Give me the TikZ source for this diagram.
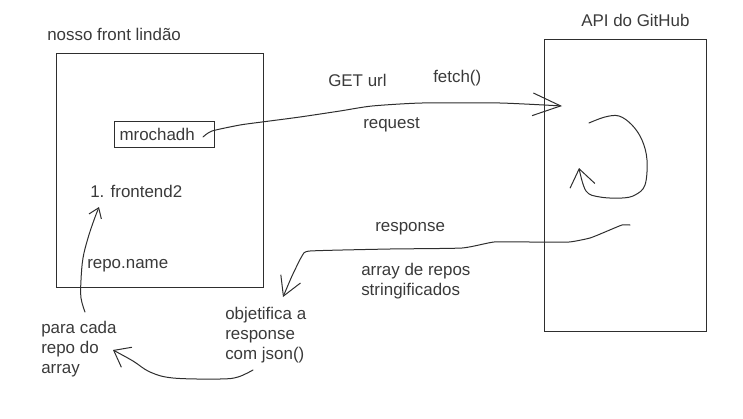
\documentclass[tikz,border=0pt]{standalone}
\usepackage{fontspec}
\setmainfont{Liberation Sans}
\usetikzlibrary{arrows.meta}
\definecolor{ink}{HTML}{3A3A3A}
\definecolor{pen}{HTML}{2E2E2E}
\begin{document}
\begin{tikzpicture}[x=0.75pt,y=-0.75pt,
  lbl/.style={text=ink, font=\fontsize{12.7}{15}\selectfont, inner sep=0pt},
  box/.style={draw=pen, line width=0.8pt, inner sep=0pt},
  hand/.style={draw=pen, line width=0.75pt, line join=round, line cap=round}]
\useasboundingbox (0,0) rectangle (743,418);

% left: front-end
\node[lbl, anchor=base west] (tFront) at (47,40) {nosso front lindão};
\node[box, anchor=north west, minimum width=155.25pt, minimum height=175.5pt] (front) at (56,53) {};
\node[box, lbl, anchor=north west, minimum height=19.5pt, text width=67.5pt, inner xsep=3.75pt, align=left] (mro) at (114,121) {mrochadh};
\node[lbl, anchor=base west] (fe2) at (90,197) {1. frontend2};
\node[lbl, anchor=base west] (rname) at (87,268) {repo.name};

% request labels
\node[lbl, anchor=base west] (get) at (328,86) {GET url};
\node[lbl, anchor=base west] (fetch) at (433,82) {fetch()};
\node[lbl, anchor=base west] (req) at (363,128) {request};

% right: API
\node[lbl, anchor=base west] (tApi) at (581,26) {API do GitHub};
\node[box, anchor=north west, minimum width=121.5pt, minimum height=219pt] (api) at (544,39) {};

% response labels (base = last line)
\node[lbl, anchor=base west] (resp) at (375,231) {response};
\node[lbl, anchor=base west, align=left] (arr) at (361,295) {array de repos\\stringificados};
\node[lbl, anchor=base west, align=left] (obj) at (225,359) {objetifica a\\response\\com json()};
\node[lbl, anchor=base west, align=left] (para) at (41,373) {para cada\\repo do\\array};

% connector end points
\coordinate (fetchS) at (203,137);
\coordinate (fetchE) at (562,106);
\coordinate (loopS) at (589,123);
\coordinate (loopE) at (579,168);
\coordinate (respS) at (630,225);
\coordinate (respE) at (283,297);
\coordinate (jsonS) at (253,370);
\coordinate (jsonE) at (113,350);
\coordinate (repS) at (85,312);
\coordinate (repE) at (99,207);

% connectors
\draw[hand, -{Straight Barb[length=21pt,width=17pt]}] plot[smooth, tension=0.4] coordinates {(fetchS) (212,131) (240,125) (262,122) (300,117) (340,111) (372,106) (422,103) (500,103) (fetchE)};
\draw[hand, -{Straight Barb[length=13pt,width=19pt]}] plot[smooth, tension=0.6] coordinates {(loopS) (605,117) (619,116) (632,125) (642,140) (647,160) (645,185) (635,195) (622,198) (600,197) (586,191) (loopE)};
\draw[hand, -{Straight Barb[length=14pt,width=16pt]}] plot[smooth, tension=0.3] coordinates {(respS) (622,225) (605,232) (590,238) (569,242) (530,242) (494,242) (462,248) (390,249) (310,251) (302,256) (292,276) (respE)};
\draw[hand, -{Straight Barb[length=11pt,width=17pt]}] plot[smooth, tension=0.6] coordinates {(jsonS) (238,377) (220,379) (173,378) (150,372) (133,361) (jsonE)};
\draw[hand, -{Straight Barb[length=7pt,width=10pt]}] plot[smooth, tension=0.6] coordinates {(repS) (81,298) (81,280) (83,258) (88,238) (94,220) (repE)};
\end{tikzpicture}
\end{document}
